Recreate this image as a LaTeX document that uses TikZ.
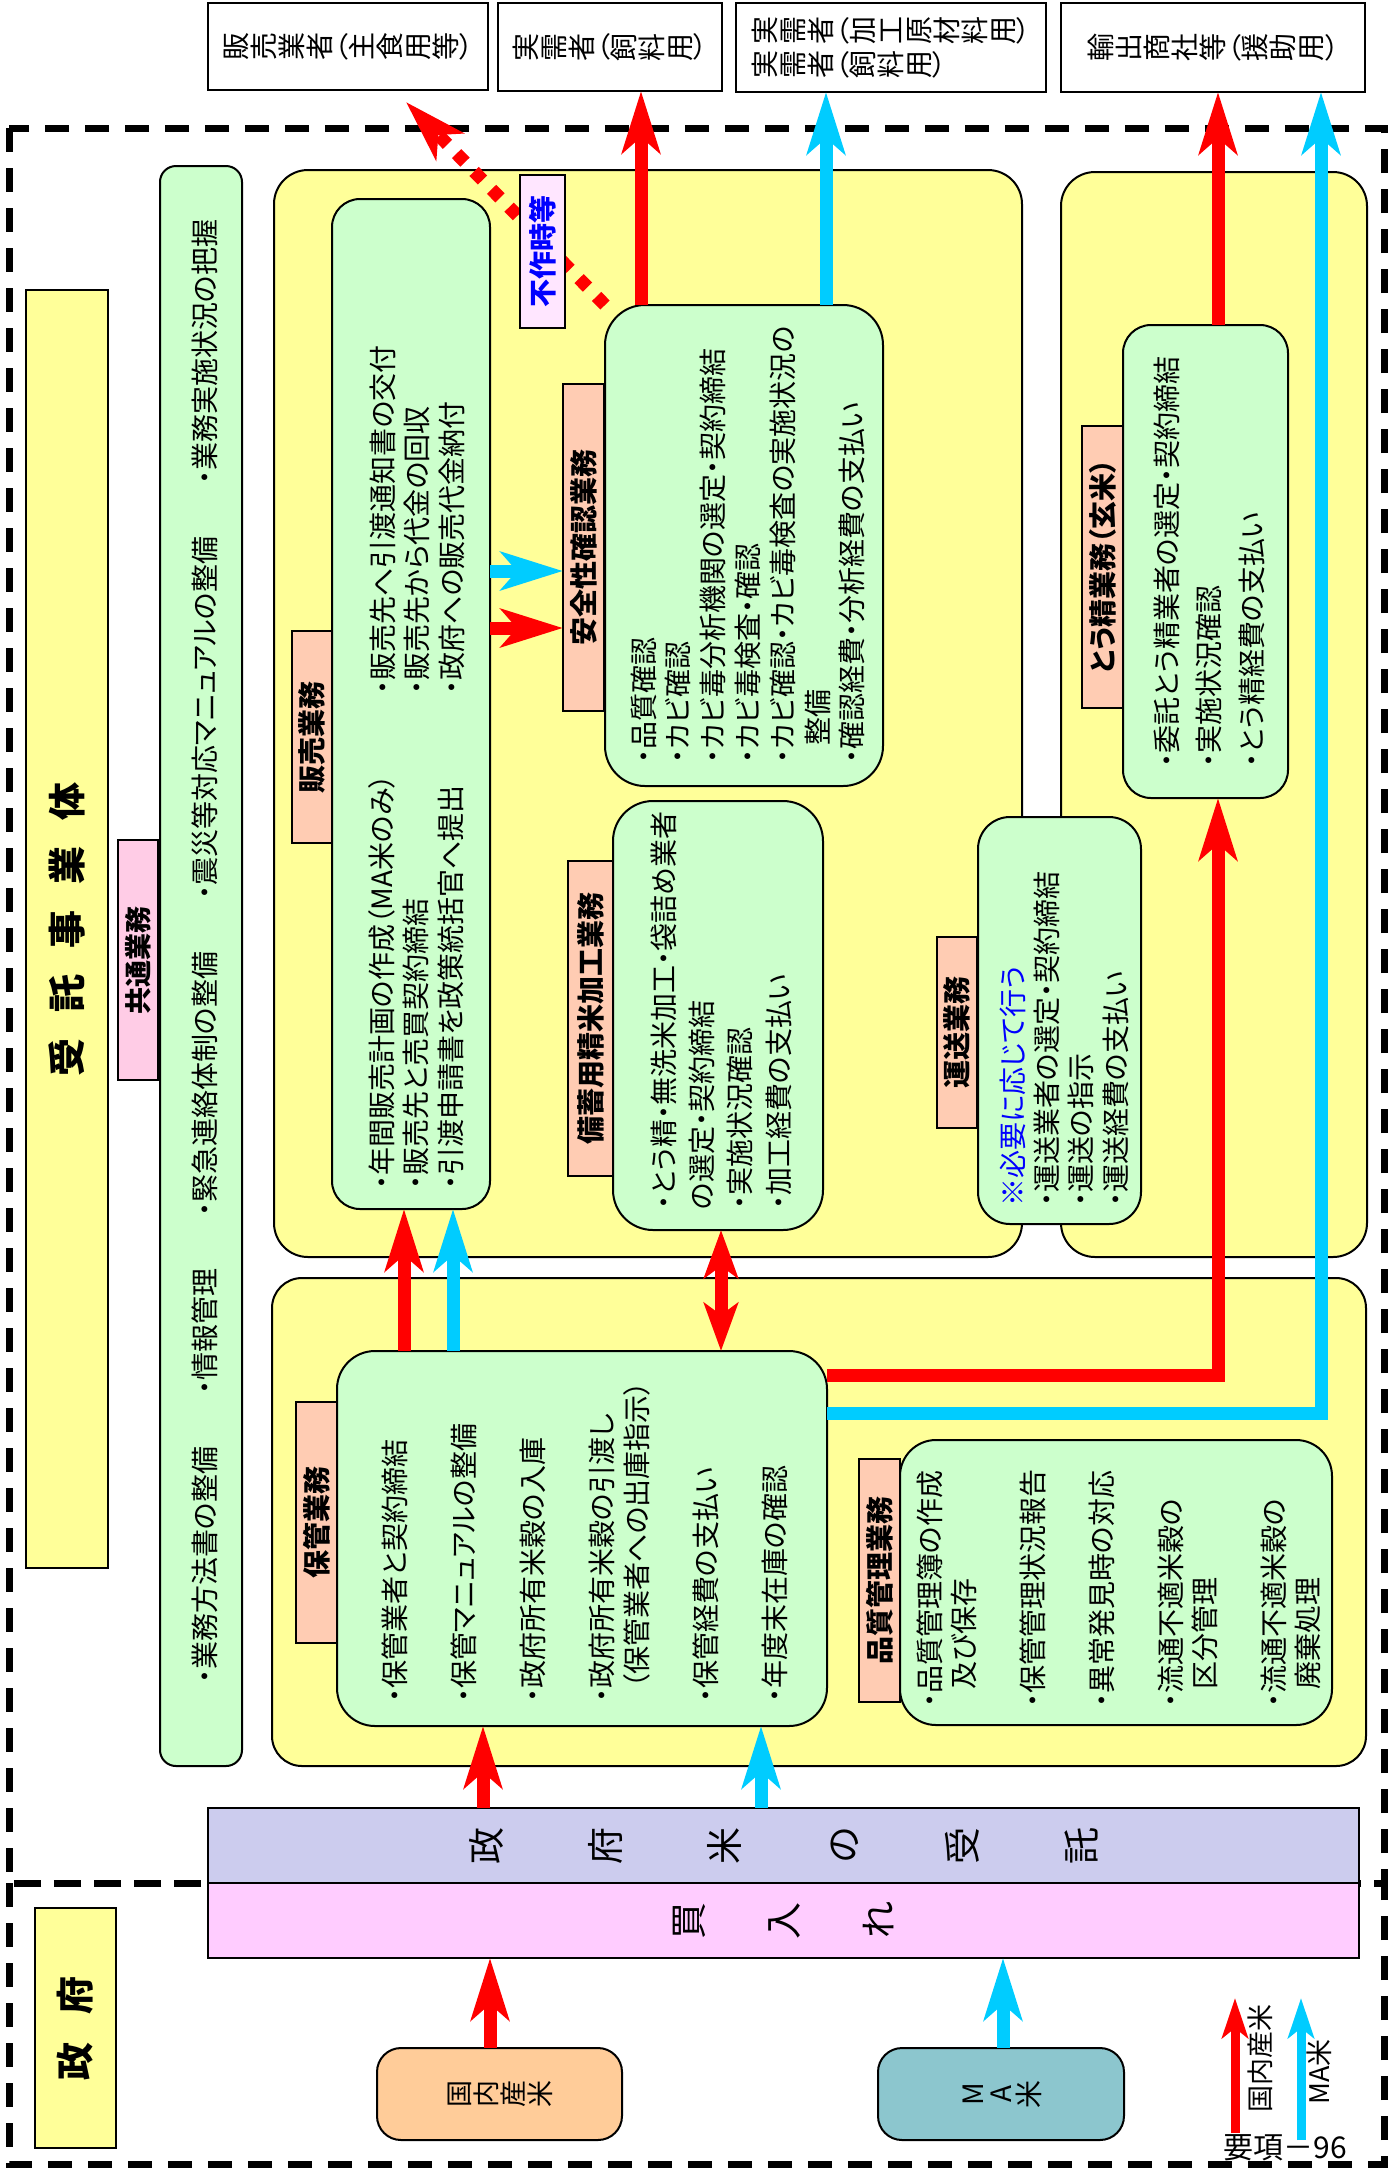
\documentclass[tikz,border=0pt]{standalone}
\usepackage{fontspec}
\setmainfont{Noto Sans CJK JP}[RawFeature=+palt]
\usepackage{graphicx}
\usetikzlibrary{arrows.meta}
\definecolor{yel}{HTML}{FFFF99}
\definecolor{grn}{HTML}{CCFFCC}
\definecolor{lab}{HTML}{FFCCB3}
\definecolor{pnk}{HTML}{FFCCE6}
\definecolor{fus}{HTML}{FFE6FF}
\definecolor{lav}{HTML}{CCCCEE}
\definecolor{pkb}{HTML}{FFCCFF}
\definecolor{org}{HTML}{FFCC99}
\definecolor{tea}{HTML}{8CC6CE}
\definecolor{cyn}{HTML}{00CCFF}
\definecolor{rd}{HTML}{FF0000}
\definecolor{blu}{HTML}{0000FF}
% rotated glyph (vertical writing turned a quarter)
\newcommand\tg[1]{\rotatebox{90}{\raisebox{0pt}[0.88em][0.12em]{\makebox[1em]{#1}}}}
\newlength\tsep
\def\tateA#1{\ifx#1\relax\else\tg{#1}\expandafter\tateB\fi}
\def\tateB#1{\ifx#1\relax\else\hspace{\tsep}\tg{#1}\expandafter\tateB\fi}
\newcommand\tate[2][0pt]{\setlength\tsep{#1}\tateA#2\relax}
\newcommand\lp{\raisebox{0.12em}{（}}
\newcommand\rp{\raisebox{0.12em}{）}}
% boxes in pixel coordinates
\newcommand\bx[7]{\node[#6, minimum width={(#4-#2)*0.5pt}, minimum height={(#5-#3)*0.5pt}] (#1) at ({(#2+#4)/2},{(#3+#5)/2}) {#7};}
\newcommand\rbx[7]{\node[#6, rotate=90, minimum width={(#5-#3)*0.5pt}, minimum height={(#4-#2)*0.5pt}] (#1) at ({(#2+#4)/2},{(#3+#5)/2}) {#7};}
\begin{document}
\begin{tikzpicture}[x=0.5pt,y=-0.5pt,
  >={Stealth[length=31pt,width=19pt,inset=8pt]},
  bxs/.style={draw, line width=1pt, inner sep=0pt, outer sep=0pt},
  yelbox/.style={bxs, fill=yel, rounded corners=17pt},
  grnbox/.style={bxs, fill=grn},
  lblbox/.style={bxs, fill=lab, font=\bfseries\fontsize{14pt}{16pt}\selectfont},
  topbox/.style={bxs, fill=white, line width=1.3pt, font=\fontsize{14pt}{17pt}\selectfont, align=left},
  tx/.style={rotate=90, align=left, inner sep=0pt, anchor=west, font=\fontsize{14pt}{17.3pt}\selectfont},
  dashfr/.style={line width=3.5pt, dash pattern=on 12pt off 8pt},
  rarr/.style={rd, line width=6.5pt, ->},
  carr/.style={cyn, line width=6.5pt, ->},
]
\useasboundingbox (0,0) rectangle (1390,2170);
% frames
\draw[dashfr] (9,128) rectangle (1384,1883);
\draw[dashfr] (9,1883) rectangle (1384,2164);
% destination boxes
\bx{d1}{208}{3}{488}{90}{topbox}{\tate{販売業者}\lp\tate{主食用等}\rp}
\bx{d2}{498}{3}{722}{91}{topbox}{\tate{実需者}\lp\tate{飼料用}\rp}
\bx{d3}{736}{3}{1046}{92}{topbox}{\tate{実需者}\lp\tate{加工原材料用}\rp\\\tate{実需者}\lp\tate{飼料用}\rp}
\bx{d4}{1061}{3}{1365}{92}{topbox}{\tate{輸出商社等}\lp\tate{援助用}\rp}
% left column
\rbx{jut}{26}{290}{108}{1568}{bxs, fill=yel, font=\bfseries\fontsize{19pt}{22pt}\selectfont}{受\hspace{13pt}託\hspace{13pt}事\hspace{13pt}業\hspace{13pt}体}
\rbx{kyl}{118}{840}{158}{1080}{bxs, fill=pnk, font=\bfseries\fontsize{13.5pt}{16pt}\selectfont}{共通業務}
\bx{cmg}{160}{166}{242}{1766}{grnbox, rounded corners=8pt}{}
\node[tx] (cmt) at (205,1684) {・業務方法書の整備\hspace{26pt}・情報管理\hspace{26pt}・緊急連絡体制の整備\hspace{26pt}・震災等対応マニュアルの整備\hspace{26pt}・業務実施状況の把握};
% yellow regions
\bx{sy}{274}{170}{1022}{1257}{yelbox}{}
\bx{ty}{1061}{172}{1367}{1257}{yelbox}{}
\bx{sty}{272}{1278}{1366}{1766}{yelbox, rounded corners=15pt}{}
% green boxes
\bx{sg}{332}{199}{490}{1209}{grnbox, rounded corners=14pt}{}
\bx{sfg}{605}{305}{883}{786}{grnbox, rounded corners=20pt}{}
\bx{bg}{613}{801}{823}{1230}{grnbox, rounded corners=20pt}{}
\bx{ug}{978}{817}{1141}{1224}{grnbox, rounded corners=16pt}{}
\bx{tgb}{1123}{325}{1288}{798}{grnbox, rounded corners=14pt}{}
\bx{stg}{337}{1351}{827}{1726}{grnbox, rounded corners=19pt}{}
\bx{qg}{900}{1440}{1332}{1725}{grnbox, rounded corners=18pt}{}
% labels
\rbx{sl}{292}{631}{332}{843}{lblbox}{販売業務}
\rbx{sfl}{563}{384}{604}{711}{lblbox}{安全性確認業務}
\rbx{bl}{568}{861}{613}{1176}{lblbox}{備蓄用精米加工業務}
\rbx{ul}{937}{937}{977}{1128}{lblbox}{運送業務}
\rbx{tl}{1082}{426}{1123}{708}{lblbox}{とう精業務（玄米）}
\rbx{stl}{296}{1402}{337}{1643}{lblbox}{保管業務}
\rbx{ql}{859}{1459}{900}{1702}{lblbox}{品質管理業務}
% texts
\node[tx] (st1) at (417,695) {・販売先へ引渡通知書の交付\\・販売先から代金の回収\\・政府への販売代金納付};
\node[tx] (st2) at (416,1190) {・年間販売計画の作成（MA米のみ）\\・販売先と売買契約締結\\・引渡申請書を政策統括官へ提出};
\node[tx, font=\fontsize{14pt}{17.4pt}\selectfont] (sft) at (748,764) {・品質確認\\・カビ確認\\・カビ毒分析機関の選定・契約締結\\・カビ毒検査・確認\\・カビ確認・カビ毒検査の実施状況の\\\hspace*{9pt}整備\\・確認経費・分析経費の支払い};
\node[tx, font=\fontsize{14pt}{19.2pt}\selectfont] (bt) at (721,1210) {・とう精・無洗米加工・袋詰め業者\\の選定・契約締結\\・実施状況確認\\・加工経費の支払い};
\node[tx, font=\fontsize{14pt}{17.2pt}\selectfont] (ut) at (1064,1207) {\textcolor{blu}{※必要に応じて行う}\\・運送業者の選定・契約締結\\・運送の指示\\・運送経費の支払い};
\node[tx, font=\fontsize{14pt}{21.25pt}\selectfont] (tt) at (1209,768) {・委託とう精業者の選定・契約締結\\・実施状況確認\\・とう精経費の支払い};
\node[tx] (stt) at (585,1703) {・保管業者と契約締結\\[17.3pt]・保管マニュアルの整備\\[17.3pt]・政府所有米穀の入庫\\[17.3pt]・政府所有米穀の引渡し\\\hspace*{7pt}（保管業者への出庫指示）\\[17.3pt]・保管経費の支払い\\[17.3pt]・年度末在庫の確認};
\node[tx, font=\fontsize{14pt}{17.2pt}\selectfont] (qt) at (1119,1708) {・品質管理簿の作成\\\hspace*{9pt}及び保存\\[17.2pt]・保管管理状況報告\\[17.2pt]・異常発見時の対応\\[17.2pt]・流通不適米穀の\\\hspace*{9pt}区分管理\\[17.2pt]・流通不適米穀の\\\hspace*{9pt}廃棄処理};
% helper coordinates
\coordinate (ya) at (0,571);
\coordinate (yb) at (0,628);
\coordinate (xr) at (404,0);
\coordinate (xc) at (453,0);
\coordinate (xd) at (721,0);
\coordinate (xs1) at (641,0);
\coordinate (xs2) at (826,0);
\coordinate (rt) at (1218,1375);
\coordinate (ct) at (1321,1413);
\coordinate (dtip) at (406,102);
% connectors
\draw[carr] (sg.east |- ya) -- (sfl.north |- ya);
\draw[rarr] (sg.east |- yb) -- (sfl.north |- yb);
\draw[rarr] (xr |- stg.north) -- (xr |- sg.south);
\draw[carr] (xc |- stg.north) -- (xc |- sg.south);
\draw[rd, line width=6.5pt, {Stealth[length=24pt,width=17pt,inset=6pt]}-{Stealth[length=24pt,width=17pt,inset=6pt]}] (xd |- stg.north) -- (xd |- bg.south);
\draw[rarr] (stg.east |- rt) -- (rt) -- (rt |- tgb.south);
\draw[rarr] (rt |- tgb.north) -- (rt |- d4.south);
\draw[carr] (stg.east |- ct) -- (ct) -- (ct |- d4.south);
\draw[rarr] (xs1 |- sfg.north) -- (xs1 |- d2.south);
\draw[carr] (xs2 |- sfg.north) -- (xs2 |- d3.south);
\draw[rd, line width=6.5pt, dash pattern=on 6pt off 6.5pt, ->] (sfg.north west) -- (dtip);
\rbx{fus}{520}{175}{565}{328}{bxs, fill=fus, text=blu, font=\bfseries\fontsize{14pt}{16pt}\selectfont}{不作時等}
% government part
\bx{ju}{208}{1808}{1359}{1883}{bxs, fill=lav, font=\fontsize{18.5pt}{20pt}\selectfont}{\tate[41pt]{政府米の受託}}
\bx{kai}{208}{1883}{1359}{1958}{bxs, fill=pkb, font=\fontsize{18.5pt}{20pt}\selectfont}{\tate[29pt]{買入れ}}
\rbx{sei}{35}{1908}{116}{2148}{bxs, fill=yel, font=\bfseries\fontsize{19pt}{22pt}\selectfont}{政\hspace{14pt}府}
\bx{kok}{377}{2048}{622}{2140}{bxs, fill=org, rounded corners=12pt, font=\fontsize{13.5pt}{16pt}\selectfont}{\tate{国内産米}}
\bx{ma}{878}{2048}{1124}{2140}{bxs, fill=tea, rounded corners=12pt, font=\fontsize{14pt}{16pt}\selectfont}{\tate{MA米}}
\coordinate (xb1) at (483,0);
\coordinate (xb2) at (761,0);
\coordinate (xb3) at (490,0);
\coordinate (xb4) at (1003,0);
\draw[rarr] (xb1 |- ju.north) -- (xb1 |- stg.south);
\draw[carr] (xb2 |- ju.north) -- (xb2 |- stg.south);
\draw[rarr] (xb3 |- kok.north) -- (xb3 |- kai.south);
\draw[carr] (xb4 |- ma.north) -- (xb4 |- kai.south);
% legend
\coordinate (l1a) at (1235,2133);
\coordinate (l1b) at (1235,1998);
\coordinate (l2a) at (1301,2140);
\coordinate (l2b) at (1301,1998);
\draw[rd, line width=4.5pt, -{Stealth[length=20pt,width=13pt,inset=5pt]}] (l1a) -- (l1b);
\draw[cyn, line width=4.5pt, -{Stealth[length=20pt,width=13pt,inset=5pt]}] (l2a) -- (l2b);
\node[rotate=90, font=\fontsize{13.5pt}{15pt}\selectfont, inner sep=0pt] (lt1) at (1260,2058) {国内産米};
\node[rotate=90, font=\fontsize{13.5pt}{15pt}\selectfont, inner sep=0pt] (lt2) at (1319,2072) {MA米};
\node[font=\fontsize{15pt}{17pt}\selectfont, inner sep=0pt] (pg) at (1285,2148) {要項－96};
\end{tikzpicture}
\end{document}
